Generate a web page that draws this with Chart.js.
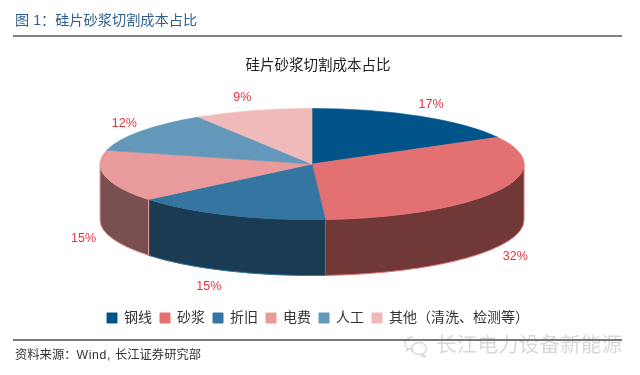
<!DOCTYPE html>
<html>
<head>
<meta charset="utf-8">
<script src="https://cdn.jsdelivr.net/npm/chart.js@4/dist/chart.umd.min.js"></script>
<style>
html, body { margin: 0; padding: 0; background: #fff; }
body { width: 640px; height: 375px; position: relative; overflow: hidden; font-family: "Liberation Sans", "Noto Sans CJK SC", sans-serif; }
.abs { position: absolute; white-space: nowrap; }
#head { left: 15px; top: 11px; font-size: 14.2px; line-height: 18px; color: #2f5f8c; }
#rule1 { left: 13px; top: 35px; width: 609px; height: 2px; background: #808080; }
#rule2 { left: 13px; top: 339px; width: 609px; height: 2px; background: #777; }
#source { left: 15px; top: 347px; font-size: 12.3px; line-height: 16px; color: #333; }
#source span { letter-spacing: 0.6px; }
#mark { left: 436px; top: 331px; font-size: 20.5px; line-height: 28px; color: #d8d8d8; letter-spacing: 0.2px; }
#icon { left: 402px; top: 333px; }
#wrap { left: 0; top: 0; width: 640px; height: 339px; }
</style>
</head>
<body>
<div class="abs" id="wrap"><canvas id="ChartCost" width="640" height="339"></canvas></div>
<div class="abs" id="head">图 1：硅片砂浆切割成本占比</div>
<div class="abs" id="mark">长江电力设备新能源</div>
<svg class="abs" id="icon" width="28" height="28" viewBox="0 0 28 28" fill="none" stroke="#d8d8d8" stroke-width="1.5">
  <path d="M11 4c-5 0-8 3-8 6.500 0 2 1 3.500 2.500 4.500l-1 2.500 3-1.500c1 .3 2 .5 3.500 .5"/>
  <ellipse cx="17" cy="15.500" rx="7.500" ry="6"/>
  <path d="M21 21l2 3-4-1.500"/>
</svg>
<div class="abs" id="rule1"></div>
<div class="abs" id="rule2"></div>
<div class="abs" id="source">资料来源：<span>Wind, </span>长江证券研究部</div>

<script>
const CATEGORIES = ["钢线", "砂浆", "折旧", "电费", "人工", "其他（清洗、检测等）"];
const COST_SHARE = [17, 32, 15, 15, 12, 9];
const COLORS = ["#00548a", "#e37171", "#3476a1", "#e99a9a", "#6498bb", "#f0baba"];
const WALL_COLORS = ["#002a45", "#713838", "#1a3b51", "#7a4f4f", "#324c5e", "#785d5d"];

// where the tilted pie sits on the canvas
const PIE_X = 312, PIE_Y = 164, RADIUS = 212, TILT = 0.262, DEPTH = 56;
const LABEL_SHIFT_X = [1, 0, -11, -2, 0, -5];

function mid(arc) {
    return (arc.startAngle + arc.endAngle) / 2;
}

const tiltedPie = {
    id: "tiltedPie",
    beforeDatasetDraw(chart, args) {
        const ctx = chart.ctx;
        args.meta.data.forEach((arc, i) => {
            const a = Math.max(arc.startAngle, 0);
            const b = Math.min(arc.endAngle, Math.PI);
            if (b <= a) return;
            const ry = RADIUS * TILT;
            ctx.beginPath();
            ctx.ellipse(PIE_X, PIE_Y, RADIUS, ry, 0, a, b);
            ctx.ellipse(PIE_X, PIE_Y + DEPTH, RADIUS, ry, 0, b, a, true);
            ctx.closePath();
            ctx.fillStyle = WALL_COLORS[i];
            ctx.strokeStyle = COLORS[i];
            ctx.lineWidth = 1;
            ctx.fill();
            ctx.stroke();
        });
        const c = args.meta.data[0];
        ctx.save();
        ctx.translate(PIE_X, PIE_Y);
        ctx.scale(1, TILT);
        ctx.translate(-c.x, -c.y);
    },
    afterDatasetDraw(chart, args) {
        const ctx = chart.ctx;
        ctx.restore();
        ctx.save();
        ctx.font = '12.5px "Liberation Sans", sans-serif';
        ctx.fillStyle = "#e8333f";
        ctx.textAlign = "center";
        ctx.textBaseline = "middle";
        args.meta.data.forEach((arc, i) => {
            const t = mid(arc);
            const sx = Math.cos(t), sy = Math.sin(t);
            const x = PIE_X + (RADIUS + 20) * sx + LABEL_SHIFT_X[i];
            const y = PIE_Y + RADIUS * TILT * sy + 14 * sy + (sy > 0 ? DEPTH + 3 : 0);
            ctx.fillText(COST_SHARE[i] + "%", x, y);
        });
        ctx.restore();
    },
};

new Chart(document.getElementById("ChartCost").getContext("2d"), {
    type: "pie",
    data: {
        labels: CATEGORIES,
        datasets: [
            {
                data: COST_SHARE,
                backgroundColor: COLORS,
                borderColor: COLORS,
                borderWidth: 1,
                radius: RADIUS,
                clip: false,
            },
        ],
    },
    options: {
        responsive: false,
        animation: false,
        events: [],
        layout: { padding: { top: 57, bottom: 4, right: 4 } },
        plugins: {
            title: {
                display: true,
                text: "硅片砂浆切割成本占比",
                color: "#222",
                font: { family: '"Liberation Sans", "Noto Sans CJK SC"', size: 14.5, weight: "normal" },
                padding: 0,
            },
            legend: {
                position: "bottom",
                labels: {
                    boxWidth: 10,
                    boxHeight: 10,
                    padding: 8,
                    color: "#333",
                    font: { family: '"Liberation Sans", "Noto Sans CJK SC"', size: 14 },
                },
            },
            tooltip: { enabled: false },
        },
    },
    plugins: [tiltedPie],
});
</script>
</body>
</html>
